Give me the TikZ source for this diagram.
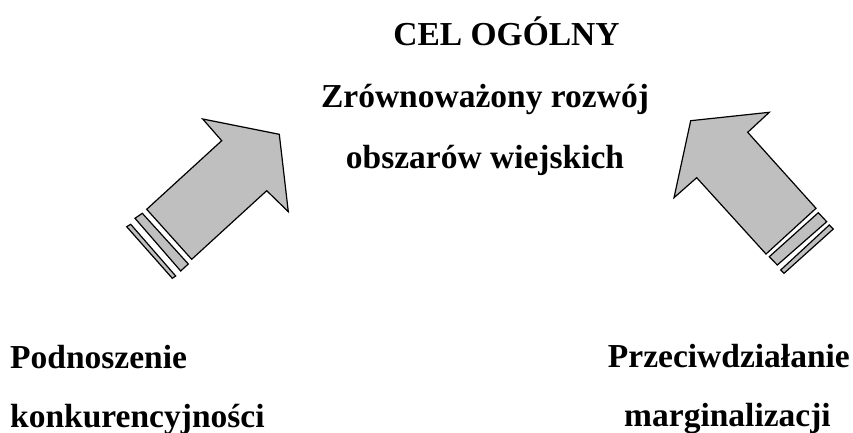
\documentclass[tikz,border=0pt]{standalone}
\usepackage{fontspec}
\setmainfont{Liberation Serif}
\begin{document}
\begin{tikzpicture}[x=1pt,y=-1pt,
  arr/.style={draw=black,fill=black!25,line width=1.2pt,line join=miter},
  lbl/.style={font=\bfseries\fontsize{33.5}{38}\selectfont,inner sep=0pt}]
\useasboundingbox (0,0) rectangle (853,433);
% left arrow
\draw[arr] (279.3,134.3) -- (288.3,211.7) -- (266.7,190.7) -- (191.7,259.3) -- (146.7,209.3) -- (221.7,140.7) -- (202.7,119) -- cycle;
\draw[arr] (135,218.3) -- (142.3,213.3) -- (188.3,264) -- (180.7,271) -- cycle;
\draw[arr] (126.7,226.7) -- (130.7,224.3) -- (175.7,276) -- (172.3,278.3) -- cycle;
% right arrow
\draw[arr] (690.7,120.7) -- (769.3,112.3) -- (747.7,132.3) -- (816,208.3) -- (766,254) -- (696.7,177.7) -- (674,197.7) -- cycle;
\draw[arr] (818.3,212.7) -- (826.7,221.7) -- (777.3,265) -- (769.3,256.7) -- cycle;
\draw[arr] (829.3,225) -- (833.3,229) -- (784,273.3) -- (780.7,270) -- cycle;
% texts
\node[lbl,anchor=base] (cel) at (506.5,46) {CEL OGÓLNY};
\node[lbl,anchor=base] (zr) at (485,108) {Zrównoważony rozwój};
\node[lbl,anchor=base] (ob) at (485,168) {obszarów wiejskich};
\node[lbl,anchor=base west] (pod) at (10,368) {Podnoszenie};
\node[lbl,anchor=base west] (kon) at (10,427) {konkurencyjności};
\node[lbl,anchor=base east] (prz) at (850,367) {Przeciwdziałanie};
\node[lbl,anchor=base] (mar) at (727.5,426) {marginalizacji};
\end{tikzpicture}
\end{document}
